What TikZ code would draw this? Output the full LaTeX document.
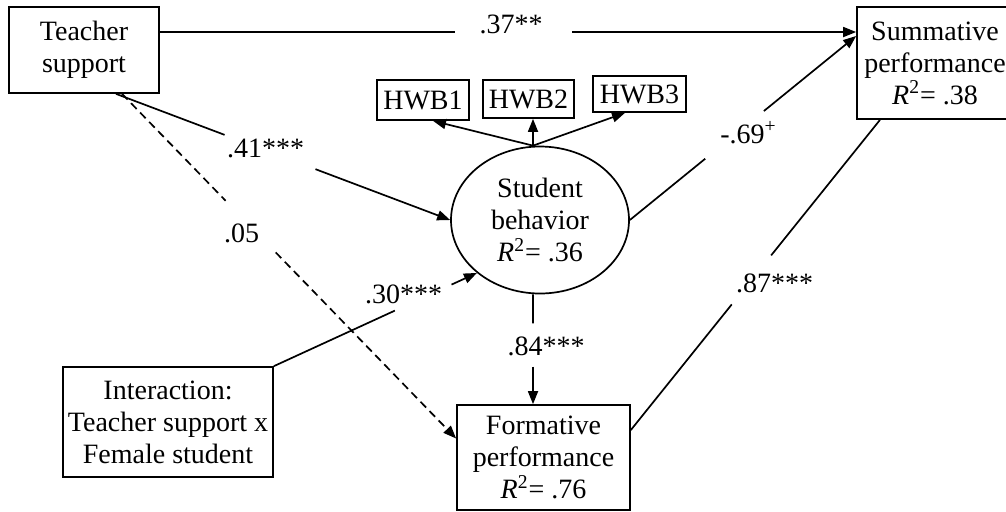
\documentclass[tikz,border=0pt]{standalone}
\usepackage{fontspec}
\setmainfont{Liberation Serif}
\usetikzlibrary{calc,arrows.meta,shapes.geometric}
\begin{document}
\begin{tikzpicture}[x=0.5pt,y=-0.5pt,
  txt/.style={font=\fontsize{14}{16}\selectfont},
  box/.style={txt, draw, line width=0.85pt, rectangle, align=center, inner sep=0pt},
  oval/.style={txt, draw, line width=0.85pt, ellipse, align=center, inner sep=0pt},
  lbl/.style={txt, anchor=base, inner sep=0pt},
  conn/.style={line width=0.85pt},
  tip/.style={-{Triangle[length=6.5pt,width=5pt]}},
  arr/.style={conn, tip},
  dsh/.style={conn, dash pattern=on 4pt off 2.5pt}]
\useasboundingbox (0,0) rectangle (1006,511);
\fill[white] (0,0) rectangle (1006,511);

% nodes
\node[box, minimum width=75pt, minimum height=43pt] (ts) at (84,50) {Teacher\\support};
\node[box, minimum width=78pt, minimum height=56pt] (ss) at (935,63) {Summative\\performance\\\textit{R}\textsuperscript{2}= .38};
\node[box, minimum width=46pt, minimum height=20pt] (h1) at (423,100) {HWB1};
\node[box, minimum width=45.5pt, minimum height=19pt] (h2) at (528.5,99) {HWB2};
\node[box, minimum width=46.5pt, minimum height=18pt] (h3) at (639.5,94) {HWB3};
\node[oval, minimum width=89pt, minimum height=73.5pt] (sb) at (540,220) {Student\\behavior\\\textit{R}\textsuperscript{2}= .36};
\node[box, minimum width=86.5pt, minimum height=52.5pt] (fp) at (543.5,457.5) {Formative\\performance\\\textit{R}\textsuperscript{2}= .76};
\node[box, minimum width=105pt, minimum height=55pt] (ia) at (168,422) {Interaction:\\Teacher support x\\Female student};

% connector end points
\coordinate (c1s) at ($(ts.east)+(0,-18)$);
\coordinate (c1e) at ($(ss.west)+(0,-31)$);
\coordinate (c2s) at ($(ts.south)+(32,0)$);
\coordinate (c2e) at (sb.west);
\coordinate (c3s) at ($(ts.south)+(38,0)$);
\coordinate (c3e) at ($(fp.west)+(0,-19)$);
\coordinate (c4s) at (ia.north east);
\coordinate (c4e) at (sb.220);
\coordinate (c5s) at ($(sb.south)+(-7,0)$);
\coordinate (c5e) at ($(fp.north)+(-10.5,0)$);
\coordinate (c6s) at (sb.east);
\coordinate (c6e) at ($(ss.west)+(0,-27)$);
\coordinate (c7s) at ($(fp.east)+(0,-27.5)$);
\coordinate (c7e) at ($(ss.south)+(-55,0)$);
\coordinate (top) at ($(sb.north)+(-7,0)$);

% Teacher support -> Summative
\draw[conn] (c1s) -- ($(c1s)!0.424!(c1e)$);
\draw[arr] ($(c1s)!0.592!(c1e)$) -- (c1e);
\node[lbl] (l1) at (511,33) {.37**};

% Teacher support -> Student behavior
\draw[conn] (c2s) -- ($(c2s)!0.325!(c2e)$);
\draw[arr] ($(c2s)!0.597!(c2e)$) -- (c2e);
\node[lbl] (l2) at (265.5,157) {.41***};

% Teacher support -> Formative (dashed)
\draw[dsh] (c3s) -- ($(c3s)!0.310!(c3e)$);
\draw[dsh, tip] ($(c3s)!0.460!(c3e)$) -- (c3e);
\node[lbl] (l3) at (241.5,242) {.05};

% Interaction -> Student behavior
\draw[conn] (c4s) -- ($(c4s)!0.596!(c4e)$);
\draw[arr] ($(c4s)!0.875!(c4e)$) -- (c4e);
\node[lbl] (l4) at (403.5,303) {.30***};

% Student behavior -> Formative
\draw[conn] (c5s) -- ($(c5s)!0.265!(c5e)$);
\draw[arr] ($(c5s)!0.659!(c5e)$) -- (c5e);
\node[lbl] (l5) at (546,355) {.84***};

% Student behavior -> Summative
\draw[conn] (c6s) -- ($(c6s)!0.333!(c6e)$);
\draw[arr] ($(c6s)!0.592!(c6e)$) -- (c6e);
\node[lbl] (l6) at (748.5,143) {-.69\textsuperscript{+}};

% Formative -> Summative
\draw[conn] (c7s) -- ($(c7s)!0.405!(c7e)$);
\draw[conn] ($(c7s)!0.563!(c7e)$) -- (c7e);
\node[lbl] (l7) at (774.5,292) {.87***};

% Student behavior -> indicators
\draw[arr] (top) -- ($(h1.south)+(10,0)$);
\draw[arr] (top) -- ($(h2.south)+(4.5,0)$);
\draw[arr] (top) -- ($(h3.south)+(-14.5,0)$);
\end{tikzpicture}
\end{document}
